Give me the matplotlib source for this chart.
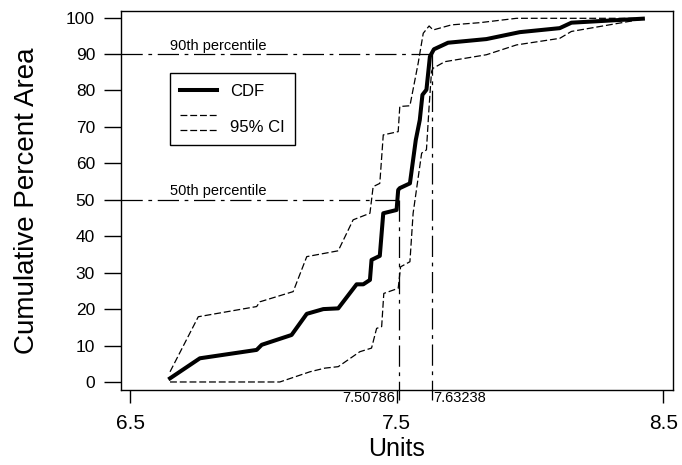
import numpy as np
import matplotlib.pyplot as plt
from matplotlib.lines import Line2D

plt.rcParams['font.family'] = ['Liberation Sans', 'DejaVu Sans']

# Empirical CDF and its 95% confidence band (units, cumulative percent)
cdf_x = [6.650, 6.762, 6.975, 6.994, 7.106, 7.163, 7.225, 7.281, 7.350, 7.375,
         7.400, 7.406, 7.437, 7.450, 7.500, 7.506, 7.512, 7.550, 7.572, 7.587,
         7.597, 7.612, 7.625, 7.640, 7.693, 7.837, 7.962, 8.112, 8.156, 8.424]
cdf_y = [1.0, 6.5, 8.8, 10.2, 12.9, 18.7, 20.0, 20.2, 26.8, 26.8,
         28.0, 33.5, 34.6, 46.3, 47.2, 52.7, 53.2, 54.5, 66.4, 71.9,
         78.8, 80.2, 89.3, 91.3, 93.1, 94.1, 96.0, 97.1, 98.6, 99.7]

upper_x = [6.650, 6.756, 6.975, 6.987, 7.112, 7.163, 7.281, 7.337, 7.400, 7.412,
           7.437, 7.450, 7.506, 7.512, 7.550, 7.581, 7.600, 7.622, 7.637, 7.706,
           7.812, 7.950, 8.424]
upper_y = [2.8, 17.9, 20.7, 22.0, 24.8, 34.4, 36.0, 44.5, 46.3, 53.6,
           54.5, 67.8, 68.7, 75.6, 75.8, 87.5, 95.7, 97.7, 96.6, 98.0,
           98.6, 99.8, 99.8]

lower_x = [6.650, 7.062, 7.175, 7.231, 7.281, 7.362, 7.406, 7.425, 7.444, 7.452,
           7.506, 7.515, 7.550, 7.562, 7.594, 7.612, 7.622, 7.631, 7.637, 7.681,
           7.837, 7.950, 8.112, 8.156, 8.424]
lower_y = [0.0, 0.0, 2.8, 3.8, 4.2, 8.3, 9.3, 14.7, 15.2, 24.3,
           25.7, 31.6, 33.0, 46.3, 62.8, 63.7, 75.6, 85.2, 86.1, 87.9,
           89.8, 92.5, 94.3, 96.2, 99.6]

# percentiles and the units where the CDF reaches them
pct_levels = [50, 90]
pct_units = [7.50786, 7.63238]
pct_names = ['50th percentile', '90th percentile']

x_ticks = [6.5, 7.5, 8.5]
y_ticks = np.arange(0, 101, 10)

dashdot = (0, (17, 4.5, 3, 4.5))
ci_dash = (0, (5.5, 2.3))


class StackedDashes:
    """Legend handle with two dashed lines, one above the other."""
    def legend_artist(self, legend, orig_handle, fontsize, handlebox):
        x0, y0 = handlebox.xdescent, handlebox.ydescent
        w, h = handlebox.width, handlebox.height
        lines = []
        for yy in (y0, y0 + h):
            ln = Line2D([x0, x0 + w], [yy, yy], color='black', lw=0.9,
                        linestyle=ci_dash, transform=handlebox.get_transform())
            handlebox.add_artist(ln)
            lines.append(ln)
        return lines[0]


fig = plt.figure(figsize=(6.82, 4.65), dpi=100)
ax = fig.add_axes([0.177, 0.1613, 0.81, 0.815])

ax.plot(upper_x, upper_y, color='black', lw=0.9, linestyle=ci_dash)
ax.plot(lower_x, lower_y, color='black', lw=0.9, linestyle=ci_dash)
cdf_line, = ax.plot(cdf_x, cdf_y, color='black', lw=2.9, solid_joinstyle='round')

x_left = 6.465
for lvl, u, name in zip(pct_levels, pct_units, pct_names):
    ax.plot([x_left, u], [lvl, lvl], color='black', lw=0.9, linestyle=dashdot)
    ax.plot([u, u], [lvl, -5], color='black', lw=0.9, linestyle=dashdot, clip_on=False)
    ax.text(6.65, lvl + 0.4, name, fontsize=10.5, va='bottom', ha='left')

ax.text(pct_units[0] - 0.012, -2.6, f'{pct_units[0]:.5f}', fontsize=10.5,
        ha='right', va='top')
ax.text(pct_units[1] + 0.006, -2.6, f'{pct_units[1]:.5f}', fontsize=10.5,
        ha='left', va='top')

ax.set_xlim(x_left, 8.5375)
ax.set_ylim(-2.2, 101.8)
ax.set_xticks(x_ticks)
ax.set_xticklabels([str(t) for t in x_ticks])
ax.set_yticks(y_ticks)
ax.tick_params(axis='x', length=9.5, width=1, pad=8, labelsize=15)
ax.tick_params(axis='y', length=12.5, width=1, pad=6, labelsize=12.5)
for s in ax.spines.values():
    s.set_linewidth(1)

ax.set_xlabel('Units', fontsize=18, labelpad=3)
ax.set_ylabel('Cumulative Percent Area', fontsize=20, labelpad=19)

ci_handle = Line2D([], [], color='black')
leg = ax.legend([cdf_line, ci_handle], ['CDF', '95% CI'],
                handler_map={ci_handle: StackedDashes()},
                loc='upper left', bbox_to_anchor=(0.089, 0.836), borderaxespad=0,
                fontsize=12, handlelength=2.2, handleheight=1.0,
                handletextpad=0.8, labelspacing=1.15, borderpad=0.6,
                fancybox=False, edgecolor='black', framealpha=1)
leg.get_frame().set_linewidth(1)

fig.savefig('out.png', dpi=100)
